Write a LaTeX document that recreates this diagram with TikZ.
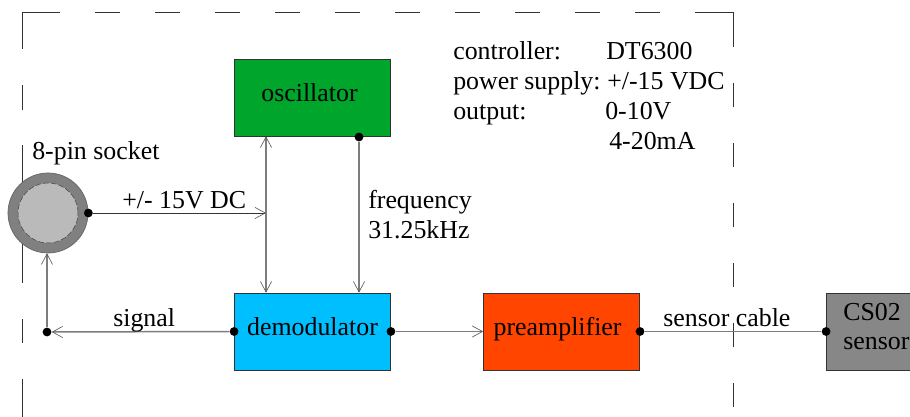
\documentclass[tikz,border=0pt]{standalone}
\usepackage{fontspec}
\setmainfont{Liberation Serif}
\usetikzlibrary{arrows.meta,positioning}
\definecolor{oscgreen}{RGB}{0,166,44}
\definecolor{demodblue}{RGB}{0,191,255}
\definecolor{preorange}{RGB}{255,69,0}
\definecolor{sensorgray}{RGB}{135,135,135}
\definecolor{wiregray}{RGB}{125,125,125}
\tikzset{
    sensor diagram/.style = {>={Straight Barb[length=2.6mm,width=2.8mm,line width=0.45pt,color=black!65]},
                             font=\fontsize{18.4}{22}\selectfont},
    line/.style      = {line width=1.05pt, draw=wiregray},
    thinline/.style  = {line width=0.7pt, draw=black!80},
    block/.style     = {draw=black!80, line width=0.6pt,
                        minimum height=1.925cm, minimum width=3.9cm,
                        text height=0.4cm, text depth=0.2cm},
    signal/.style    = {circle, fill=black, inner sep=0pt, minimum size=0.22cm},
    sig/.style       = {anchor=base west, inner sep=0pt},
    enclosure/.style = {draw=black!80, line width=0.6pt}
}
\begin{document}
\begin{tikzpicture}[sensor diagram]
\useasboundingbox (0,0) rectangle (22.75,10.425);

% ================= Housing outline =================
\coordinate (tl) at (0.5625,10.1125);
\coordinate (tr) at (18.3375,10.1125);
\coordinate (bl) at (0.5625,0);
\coordinate (br) at (18.3375,0);
\coordinate (topa) at (2.375,10.1125);
\coordinate (topb) at (16.5,10.1125);
\coordinate (rgta) at (18.3375,8.35);
% corners
\draw[enclosure] (0.5625,9.2) -- (tl) -- (1.5,10.1125);
\draw[enclosure] (17.375,10.1125) -- (tr) -- (18.3375,9.25);
% sides
\draw[enclosure, dash pattern=on 0.625cm off 0.875cm] (topa) -- (topb);
\draw[enclosure, dash pattern=on 0.6cm off 0.9cm] (rgta) -- (br);
\draw[enclosure, dash pattern=on 0.625cm off 0.875cm on 3.45cm off 0.9cm
      on 0.6cm off 0.9cm on 1cm off 1cm] (0.5625,8.3) -- (bl);

% ================= Blocks =================
\node[block, fill=oscgreen]   (osc)    at (7.8125, 7.9875) {oscillator\kern0.15cm};
\node[block, fill=demodblue]  (demod)  at (7.8125, 2.1375) {demodulator};
\node[block, fill=preorange]  (preamp) at (14.04,  2.1375) {preamplifier\kern0.2cm};
\node[block, fill=sensorgray] (sensor) at (22.6125, 2.1375) {};
\node[sig] (cs)    at (21.075, 2.4) {CS02};
\node[sig] (senstext) at (21.075, 1.675) {sensor};

% ================= Socket =================
\node[circle, draw=black!60, fill=black!50, line width=0.5pt, inner sep=0pt,
      minimum size=2cm] (sock) at (1.2, 5.1) {};
\node[circle, draw=black!75, dash pattern=on 4pt off 1.5pt, fill=black!27, line width=0.35pt,
      inner sep=0pt, minimum size=1.5cm] (sockin) at (sock) {};
\node[sig] (socklabel) at (0.8, 6.425) {8-pin socket};

% ================= Connection points =================
\node[signal] (sockdot)  at (sock.east) {};
\node[signal] (freqdot)  at (8.975, 7.0) {};
\node[signal] (sigdot)   at (1.175, 2.125) {};
\node[signal] (demodin)  at (demod.west) {};
\node[signal] (demodout) at (demod.east) {};
\node[signal] (predot)   at (preamp.east) {};
\node[signal] (sensdot)  at (sensor.west) {};
\coordinate (tap) at (6.65, 5.1);

% ================= Connectors =================
\draw[<->, line] (tap |- osc.south) -- (tap |- demod.north);
\draw[->, thinline] (sockdot) -- (tap);
\draw[->, line] (freqdot) -- (freqdot |- demod.north);
\draw[->, line] (demodin) -- (sigdot);
\draw[->, line] (sigdot) -- (sigdot |- sock.south);
\draw[->, line] (demodout) -- (preamp.west);
\draw[line] (predot) -- (sensdot);

% ================= Labels =================
\node[sig] (supply) at (3.05, 5.22) {+/- 15V DC};
\node[sig] (freq)   at (9.2, 5.2) {frequency};
\node[sig] (khz)    at (9.2, 4.45) {31.25kHz};
\node[sig] (sigtxt) at (2.825, 2.26) {signal};
\node[sig] (cable)  at (16.575, 2.25) {sensor cable};

\node[sig] (ctrl)  at (11.325, 8.925) {controller:};
\node[sig] (ctrlv) at (15.15, 8.925) {DT6300};
\node[sig] (pwr)   at (11.325, 8.175) {power supply:};
\node[sig] (pwrv)  at (15.175, 8.175) {+/-15 VDC};
\node[sig] (outp)  at (11.325, 7.425) {output:};
\node[sig] (outv)  at (15.125, 7.425) {0-10V};
\node[sig] (outi)  at (15.225, 6.675) {4-20mA};

\end{tikzpicture}
\end{document}
